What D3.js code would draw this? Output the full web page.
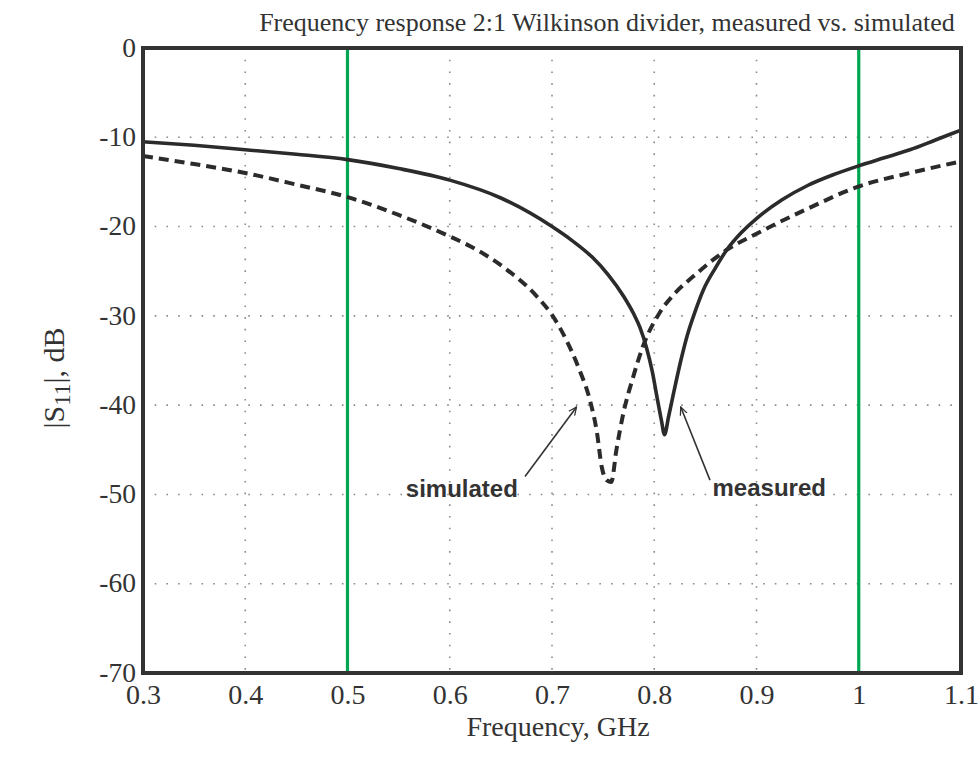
<!DOCTYPE html>
<html>
<head>
<meta charset="utf-8">
<script src="https://cdn.jsdelivr.net/npm/d3@7"></script>
<style>
  html, body { margin: 0; padding: 0; background: #ffffff; }
  svg { display: block; }
</style>
</head>
<body>
<svg id="chart" width="980" height="761"></svg>
<script>
// ---------------- data ----------------
const titleText = "Frequency response 2:1 Wilkinson divider, measured vs. simulated";
const xTicks = [0.3, 0.4, 0.5, 0.6, 0.7, 0.8, 0.9, 1.0, 1.1];
const xTickLabels = ["0.3", "0.4", "0.5", "0.6", "0.7", "0.8", "0.9", "1", "1.1"];
const yTicks = [0, -10, -20, -30, -40, -50, -60, -70];
const yTickLabels = ["0", "-10", "-20", "-30", "-40", "-50", "-60", "-70"];
const markerFreqs = [0.5, 1.0];

const freqMeasured = [0.30, 0.35, 0.40, 0.45, 0.50, 0.55, 0.60, 0.65, 0.70, 0.72, 0.74, 0.755, 0.77, 0.78, 0.786, 0.7925, 0.798, 0.803, 0.807, 0.81, 0.814, 0.819, 0.826, 0.832, 0.84, 0.848, 0.86, 0.871, 0.885, 0.90, 0.925, 0.95, 0.975, 1.00, 1.025, 1.05, 1.075, 1.10];
const measured = [-10.5, -10.9, -11.4, -11.9, -12.5, -13.5, -14.8, -16.8, -20.0, -21.6, -23.5, -25.4, -27.8, -29.8, -31.3, -33.6, -36.2, -39.3, -41.7, -43.3, -41.3, -38.6, -35.0, -32.3, -29.5, -27.1, -24.6, -22.6, -20.7, -19.1, -17.0, -15.4, -14.2, -13.2, -12.3, -11.4, -10.3, -9.2];

const freqSimulated = [0.30, 0.35, 0.40, 0.45, 0.50, 0.55, 0.60, 0.62, 0.652, 0.685, 0.70, 0.714, 0.727, 0.737, 0.744, 0.7486, 0.7535, 0.758, 0.763, 0.7698, 0.7795, 0.789, 0.805, 0.82, 0.838, 0.871, 0.90, 0.95, 1.00, 1.05, 1.10];
const simulated = [-12.1, -13.0, -14.0, -15.3, -16.7, -18.7, -21.1, -22.2, -24.5, -27.8, -29.9, -32.7, -36.1, -39.4, -43.1, -46.9, -48.4, -48.6, -45.0, -40.9, -36.8, -33.4, -29.7, -27.5, -25.6, -22.6, -20.8, -18.0, -15.5, -14.0, -12.7];

// annotations: label, text anchor point, arrow start, arrow end (data units)
const annLabels = ["simulated", "measured"];
const annTextPos = [[0.557, -50.3], [0.857, -50.2]];
const annArrowFrom = [[0.6736, -48.0], [0.8545, -48.4]];
const annArrowTo = [[0.724, -40.2], [0.8259, -40.2]];

// ---------------- layout ----------------
const svg = d3.select("#chart");
const L = 143, R = 961, T = 48, B = 673;
const x = d3.scaleLinear().domain([0.3, 1.1]).range([L, R]);
const y = d3.scaleLinear().domain([-70, 0]).range([B, T]);

const serif = "'Liberation Serif', 'Times New Roman', serif";
const sans = "'Liberation Sans', Arial, sans-serif";
const ink = "#333333";

// grid
const grid = svg.append("g");
grid.selectAll("line.v").data(xTicks.slice(1, -1).filter(v => !markerFreqs.includes(v)))
  .enter().append("line")
  .attr("x1", d => x(d)).attr("x2", d => x(d))
  .attr("y1", T).attr("y2", B)
  .attr("stroke", "#8a8a8a").attr("stroke-width", 1.6)
  .attr("stroke-dasharray", "1.6,10.1");
grid.selectAll("line.h").data(yTicks.slice(1, -1))
  .enter().append("line")
  .attr("x1", L).attr("x2", R)
  .attr("y1", d => y(d)).attr("y2", d => y(d))
  .attr("stroke", "#8a8a8a").attr("stroke-width", 1.6)
  .attr("stroke-dasharray", "1.6,10.1");

// green markers
svg.selectAll("line.marker").data(markerFreqs).enter().append("line")
  .attr("x1", d => x(d)).attr("x2", d => x(d))
  .attr("y1", T).attr("y2", B)
  .attr("stroke", "#00a651").attr("stroke-width", 3.2);

// curves
const lineGen = d3.line().x(d => x(d[0])).y(d => y(d[1])).curve(d3.curveMonotoneX);
const simData = freqSimulated.map((f, i) => [f, simulated[i]]);
const measData = freqMeasured.map((f, i) => [f, measured[i]]);

svg.append("clipPath").attr("id", "clip").append("rect")
  .attr("x", L).attr("y", T).attr("width", R - L).attr("height", B - T);

svg.append("path").datum(simData)
  .attr("d", lineGen).attr("fill", "none")
  .attr("stroke", "#2b2b2b").attr("stroke-width", 4)
  .attr("stroke-dasharray", "10,6")
  .attr("clip-path", "url(#clip)");
svg.append("path").datum(measData)
  .attr("d", lineGen).attr("fill", "none")
  .attr("stroke", "#2b2b2b").attr("stroke-width", 3.6)
  .attr("stroke-linejoin", "round")
  .attr("clip-path", "url(#clip)");

// frame
svg.append("rect").attr("x", L).attr("y", T).attr("width", R - L).attr("height", B - T)
  .attr("fill", "none").attr("stroke", ink).attr("stroke-width", 4);

// axes (labels only)
const xAxis = d3.axisBottom(x).tickValues(xTicks).tickSize(0)
  .tickFormat((d, i) => xTickLabels[i]);
const gx = svg.append("g").attr("transform", `translate(0,${B})`).call(xAxis);
gx.select(".domain").remove();
gx.selectAll("text").attr("font-family", serif).attr("font-size", 28)
  .attr("fill", ink).attr("dy", null).attr("y", 31);

const yAxis = d3.axisLeft(y).tickValues(yTicks).tickSize(0)
  .tickFormat((d, i) => yTickLabels[i]);
const gy = svg.append("g").attr("transform", `translate(${L},0)`).call(yAxis);
gy.select(".domain").remove();
gy.selectAll("text").attr("font-family", serif).attr("font-size", 27.5)
  .attr("fill", ink).attr("x", -7).attr("dy", "0.3em");

// title
svg.append("text").attr("x", 607).attr("y", 31).attr("text-anchor", "middle")
  .attr("font-family", serif).attr("font-size", 26).attr("fill", ink)
  .text(titleText);

// x-axis title
svg.append("text").attr("x", 558).attr("y", 736).attr("text-anchor", "middle")
  .attr("font-family", serif).attr("font-size", 28).attr("fill", ink)
  .text("Frequency, GHz");

// y-axis title with subscript
const yt = svg.append("text")
  .attr("transform", "translate(64,378) rotate(-90)")
  .attr("text-anchor", "middle")
  .attr("font-family", serif).attr("font-size", 30).attr("fill", ink);
yt.append("tspan").text("|S");
yt.append("tspan").attr("baseline-shift", "-25%").attr("font-size", 23).text("11");
yt.append("tspan").text("|, dB");

// annotations
const defs = svg.append("defs");
defs.append("marker").attr("id", "arrow").attr("viewBox", "0 0 10 10")
  .attr("refX", 9).attr("refY", 5).attr("markerWidth", 9).attr("markerHeight", 9)
  .attr("markerUnits", "userSpaceOnUse").attr("orient", "auto")
  .append("path").attr("d", "M0,1 L9,5 L0,9").attr("fill", "none")
  .attr("stroke", ink).attr("stroke-width", 1.4);

annLabels.forEach((lab, i) => {
  svg.append("line")
    .attr("x1", x(annArrowFrom[i][0])).attr("y1", y(annArrowFrom[i][1]))
    .attr("x2", x(annArrowTo[i][0])).attr("y2", y(annArrowTo[i][1]))
    .attr("stroke", ink).attr("stroke-width", 1.6)
    .attr("marker-end", "url(#arrow)");
  svg.append("text")
    .attr("x", x(annTextPos[i][0])).attr("y", y(annTextPos[i][1]))
    .attr("font-family", sans).attr("font-weight", "bold").attr("font-size", 24)
    .attr("fill", ink).text(lab);
});
</script>
</body>
</html>
